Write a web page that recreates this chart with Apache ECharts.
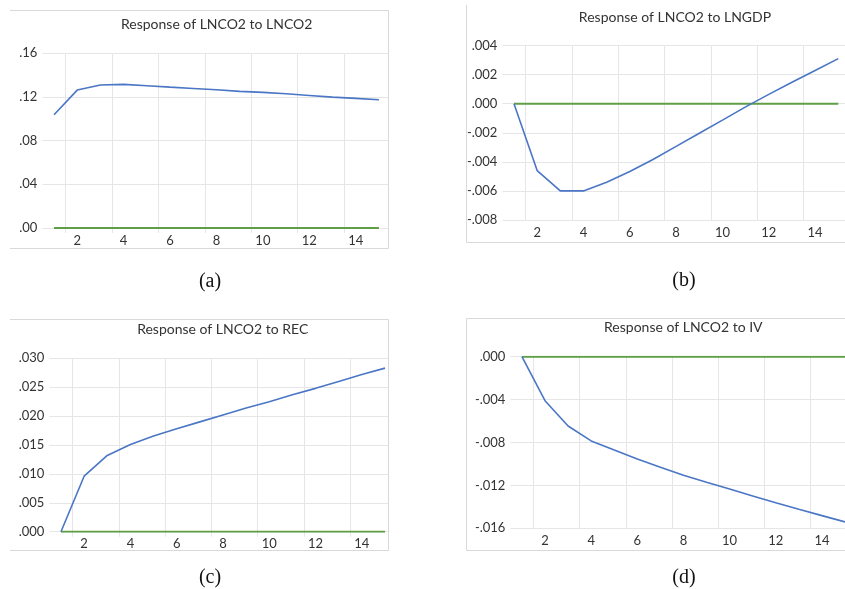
<!DOCTYPE html>
<html>
<head>
<meta charset="utf-8">
<script src="https://cdn.jsdelivr.net/npm/echarts@6/dist/echarts.min.js"></script>
<style>
html,body{margin:0;padding:0;background:#fff;}
#c{width:845px;height:589px;}
</style>
</head>
<body>
<div id="c"></div>
<script>
// ---- data ----
var periods = [1,2,3,4,5,6,7,8,9,10,11,12,13,14,15];
var respLNCO2 = [0.1035,0.1261,0.1307,0.1313,0.1301,0.1288,0.1276,0.1264,0.1249,0.1240,0.1227,0.1212,0.1197,0.1185,0.1173];
var respLNGDP = [0,-0.0046,-0.0060,-0.0060,-0.0054,-0.00466,-0.00384,-0.00294,-0.00203,-0.00113,-0.00022,0.00064,0.00147,0.00228,0.0031];
var respREC   = [0,0.0096,0.0132,0.0151,0.01655,0.0178,0.0190,0.0202,0.0214,0.0225,0.0237,0.0248,0.0260,0.0272,0.0283];
var respIV    = [0,-0.0041,-0.00646,-0.00785,-0.00871,-0.00954,-0.01031,-0.01105,-0.0117,-0.01234,-0.01298,-0.01362,-0.01423,-0.01482,-0.0154];
var zeroLine  = [0,0,0,0,0,0,0,0,0,0,0,0,0,0,0];
var xLabelTicks = [2,4,6,8,10,12,14];
var xGridTicks = [1.5,3.5,5.5,7.5,9.5,11.5,13.5];
var titles = ['Response of LNCO2 to LNCO2','Response of LNCO2 to LNGDP','Response of LNCO2 to REC','Response of LNCO2 to IV'];
var captions = ['(a)','(b)','(c)','(d)'];
var yRanges = [[0,0.16,0.04,2],[-0.008,0.004,0.002,3],[0,0.030,0.005,3],[-0.016,0,0.004,3]];
var seriesList = [respLNCO2, respLNGDP, respREC, respIV];

// ---- layout ----
var grids = [
  {left:42.4, top:53, width:345.6, height:175, xmax:15.39},
  {left:502.4, top:45.5, width:342.6, height:174.5, xmax:15.29},
  {left:49.4, top:358.3, width:338.6, height:173.4, xmax:15.13},
  {left:510.4, top:356.7, width:334.6, height:171.6, xmax:15}
];
var titlePos = [[216.7,24.5],[675,17.5],[222.7,329.5],[683.3,327]];
var captionPos = [[210,282],[684,281],[210,578],[684,578]];

var GRIDC = '#e6e6e6';
var FONT = 'Lato, "Open Sans", sans-serif';
var TXT = '#333';

function fmt(d){
  return function(v){
    var s = Math.abs(v) < 1e-12 ? (0).toFixed(d) : v.toFixed(d);
    return s.replace(/^(-?)0\./,'$1.');
  };
}
function pairs(arr){ return periods.map(function(p,i){ return [p, arr[i]]; }); }

var option = {
  animation:false,
  backgroundColor:'#fff',
  title: [],
  grid: [], xAxis: [], yAxis: [], series: [],
  graphic: []
};

for (var i=0;i<4;i++){
  var g = grids[i];
  option.grid.push({left:g.left, top:g.top, width:g.width, height:g.height, containLabel:false});
  option.xAxis.push({
    type:'value', gridIndex:i, min:0.5, max:g.xmax,
    axisLine:{show:false},
    axisTick:{show:true, customValues:xGridTicks, length:5, lineStyle:{color:GRIDC}},
    axisLabel:{customValues:xLabelTicks, margin:6, color:TXT, fontFamily:FONT, fontSize:13},
    splitLine:{show:true, lineStyle:{color:GRIDC, width:1}}
  });
  var yr = yRanges[i];
  option.yAxis.push({
    type:'value', gridIndex:i, min:yr[0], max:yr[1], interval:yr[2],
    axisLine:{show:false}, axisTick:{show:false},
    axisLabel:{formatter:fmt(yr[3]), margin:5, color:TXT, fontFamily:FONT, fontSize:13},
    splitLine:{show:true, lineStyle:{color:GRIDC, width:1}}
  });
  option.series.push({
    type:'line', xAxisIndex:i, yAxisIndex:i, data:pairs(zeroLine),
    showSymbol:false, lineStyle:{color:'#5f9e45', width:2}, z:2
  });
  option.series.push({
    type:'line', xAxisIndex:i, yAxisIndex:i, data:pairs(seriesList[i]),
    showSymbol:false, lineStyle:{color:'#4a76c5', width:1.6}, z:3
  });
  option.title.push({
    text:titles[i], left:titlePos[i][0], top:titlePos[i][1], textAlign:'center', textVerticalAlign:'middle',
    padding:0,
    textStyle:{fontFamily:FONT, fontSize:14, fontWeight:'normal', color:TXT}
  });
  option.graphic.push({
    type:'text', x:captionPos[i][0], y:captionPos[i][1],
    style:{text:captions[i], font:'20px "Liberation Serif", "Times New Roman", serif', fill:'#111', align:'center', verticalAlign:'middle'}
  });
}

// frames
var FR = '#d9d9d9';
function ln(x1,y1,x2,y2){ return {type:'line', shape:{x1:x1,y1:y1,x2:x2,y2:y2}, style:{stroke:FR, lineWidth:1}, silent:true}; }
option.graphic.push(
  ln(10,10.5,388.5,10.5), ln(388.5,10.5,388.5,248.5), ln(10,248.5,388.5,248.5),
  ln(466.5,5,466.5,242.5), ln(466.5,242.5,845,242.5),
  ln(10,319.5,388.5,319.5), ln(388.5,319.5,388.5,550.5), ln(10,550.5,388.5,550.5),
  ln(466.5,318.5,845,318.5), ln(466.5,318.5,466.5,550.5), ln(466.5,550.5,845,550.5)
);

var chart = echarts.init(document.getElementById('c'), null, {renderer:'canvas'});
chart.setOption(option);
</script>
</body>
</html>
